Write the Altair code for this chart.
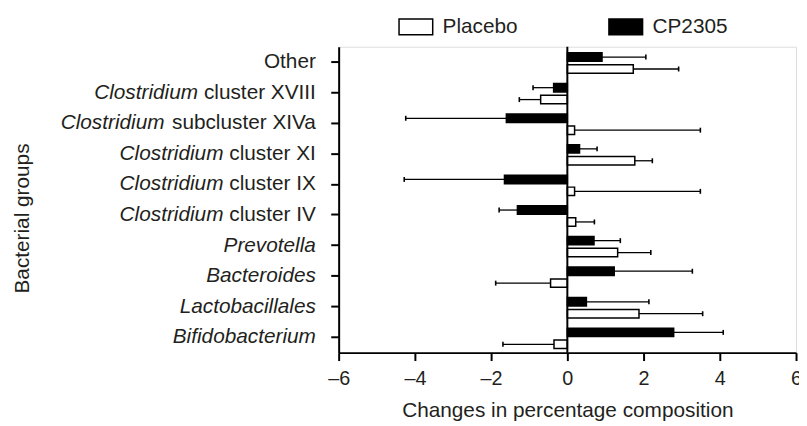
import altair as alt
import pandas as pd

# ---------------- data ----------------
categories = ["Other", "Clostridium cluster XVIII", "Clostridium subcluster XIVa",
              "Clostridium cluster XI", "Clostridium cluster IX", "Clostridium cluster IV",
              "Prevotella", "Bacteroides", "Lactobacillales", "Bifidobacterium"]
italic_part = ["", "Clostridium", "Clostridium", "Clostridium", "Clostridium", "Clostridium",
               "Prevotella", "Bacteroides", "Lactobacillales", "Bifidobacterium"]
roman_part = ["Other", "cluster XVIII", "subcluster XIVa", "cluster XI", "cluster IX",
              "cluster IV", "", "", "", ""]

series = ["Placebo", "CP2305"]
placebo = [1.73, -0.70, 0.19, 1.77, 0.19, 0.22, 1.32, -0.44, 1.88, -0.35]
placebo_sd = [1.19, 0.56, 3.30, 0.46, 3.30, 0.49, 0.87, 1.44, 1.67, 1.34]
cp2305 = [0.91, -0.36, -1.60, 0.32, -1.65, -1.31, 0.70, 1.23, 0.50, 2.79]
cp2305_sd = [1.15, 0.54, 2.64, 0.46, 2.63, 0.48, 0.69, 2.05, 1.64, 1.30]

x_ticks = [-6, -4, -2, 0, 2, 4, 6]

# ---------------- layout ----------------
W, H = 462, 309
PAD_L, PAD_T, PAD_B, PAD_R = 334, 37, 72, 3
XMIN, XMAX = -6, 6
FONT = "Liberation Sans"
TXT = "#231f20"
FS = 21
LABEL_GAP = 23  # px between label right edge and axis

# Arial / Liberation Sans advance widths (per 1000 em)
AW = {" ": 278, "c": 500, "l": 222, "u": 556, "s": 500, "t": 278, "e": 556, "r": 333,
      "b": 556, "X": 667, "V": 667, "I": 278, "a": 556, "O": 778, "h": 556}


def text_w(s, fs):
    return sum(AW.get(ch, 556) for ch in s) * fs / 1000.0


ppu = W / (XMAX - XMIN)

rows = []
for i, g in enumerate(categories):
    rows.append(dict(group=g, series="CP2305", value=cp2305[i],
                     err=cp2305[i] + (1 if cp2305[i] >= 0 else -1) * cp2305_sd[i]))
    rows.append(dict(group=g, series="Placebo", value=placebo[i],
                     err=placebo[i] + (1 if placebo[i] >= 0 else -1) * placebo_sd[i]))
df = pd.DataFrame(rows)

lab_rows = []
for g, it, ro in zip(categories, italic_part, roman_part):
    off = LABEL_GAP
    rx = XMIN - off / ppu
    if ro:
        off += text_w(ro, FS) + (text_w(" ", FS) if it else 0)
    ix = XMIN - off / ppu
    lab_rows.append(dict(group=g, italic=it, roman=ro, ix=ix, rx=rx))
labels = pd.DataFrame(lab_rows)

# ---------------- encodings ----------------
xscale = alt.Scale(domain=[XMIN, XMAX], nice=False, zero=False)
xaxis = alt.Axis(values=x_ticks, grid=False, tickSize=8, tickWidth=2, domainWidth=2,
                 domainColor="black", tickColor="black", labelFlush=False,
                 labelExpr="datum.value < 0 ? '\u2013' + abs(datum.value) : datum.value + ''",
                 labelFontSize=20, labelBaseline="alphabetic", labelPadding=24,
                 labelColor=TXT, labelFont=FONT,
                 title="Changes in percentage composition", titleFontSize=FS,
                 titleFontWeight="normal", titleColor=TXT, titleFont=FONT,
                 titleX=W / 2, titleY=65, titleAlign="center", titleBaseline="alphabetic")


def X(field):
    return alt.X(field, type="quantitative", scale=xscale, axis=xaxis)


yenc = alt.Y("group:N", sort=categories,
             scale=alt.Scale(paddingInner=0, paddingOuter=0),
             axis=alt.Axis(labels=False, grid=False, tickSize=8, tickWidth=2, domainWidth=2,
                           domainColor="black", tickColor="black",
                           title="Bacterial groups", titleFontSize=FS, titleFontWeight="normal",
                           titleColor=TXT, titleFont=FONT, titleAngle=270,
                           titleX=-(PAD_L + 8 - 29), titleY=173, titleAlign="center",
                           titleBaseline="alphabetic"))
yoff = alt.YOffset("series:N", sort=["CP2305", "Placebo"],
                   scale=alt.Scale(paddingInner=0.29, paddingOuter=0.43, align=0.6))

color = alt.Color("series:N",
                  scale=alt.Scale(domain=series, range=["white", "black"]),
                  legend=alt.Legend(orient="none", legendX=60, legendY=-38,
                                    direction="horizontal", title=None,
                                    symbolType="M-1,-0.47L1,-0.47L1,0.47L-1,0.47Z",
                                    symbolSize=1156, symbolStrokeColor="black",
                                    symbolStrokeWidth=1.5, symbolOpacity=1,
                                    labelFontSize=FS, labelFont=FONT, labelColor=TXT,
                                    labelOffset=9, columnPadding=89, padding=0))

base = alt.Chart(df)

bars = base.mark_bar(stroke="black", strokeWidth=1.5, opacity=1).encode(
    x=X("value"), x2=alt.datum(0), y=yenc, yOffset=yoff, fill=color)

err_lines = base.mark_rule(color="black", strokeWidth=1.3).encode(
    x=X("value"), x2="err", y=yenc, yOffset=yoff)

caps = base.mark_tick(color="black", thickness=1.6, size=5, opacity=1).encode(
    x=X("err"), y=yenc, yOffset=yoff)

zero = alt.Chart(pd.DataFrame({"z": [0]})).mark_rule(color="black", strokeWidth=2).encode(
    x=X("z"))

lab_base = alt.Chart(labels)
lab_roman = lab_base.mark_text(align="right", baseline="middle", font=FONT,
                               fontSize=FS, color=TXT).encode(
    x=X("rx"), y=yenc, text="roman:N")
lab_italic = lab_base.mark_text(align="right", baseline="middle", font=FONT,
                                fontSize=FS, fontStyle="italic", color=TXT).encode(
    x=X("ix"), y=yenc, text="italic:N")

chart = alt.layer(bars, err_lines, caps, zero, lab_roman, lab_italic).properties(
    width=W, height=H,
    autosize=alt.AutoSizeParams(type="none"),
    padding={"left": PAD_L, "top": PAD_T, "right": PAD_R, "bottom": PAD_B},
).configure_view(stroke=None).configure(font=FONT)

chart.save("out.html", embed_options={"renderer": "svg", "actions": False})
